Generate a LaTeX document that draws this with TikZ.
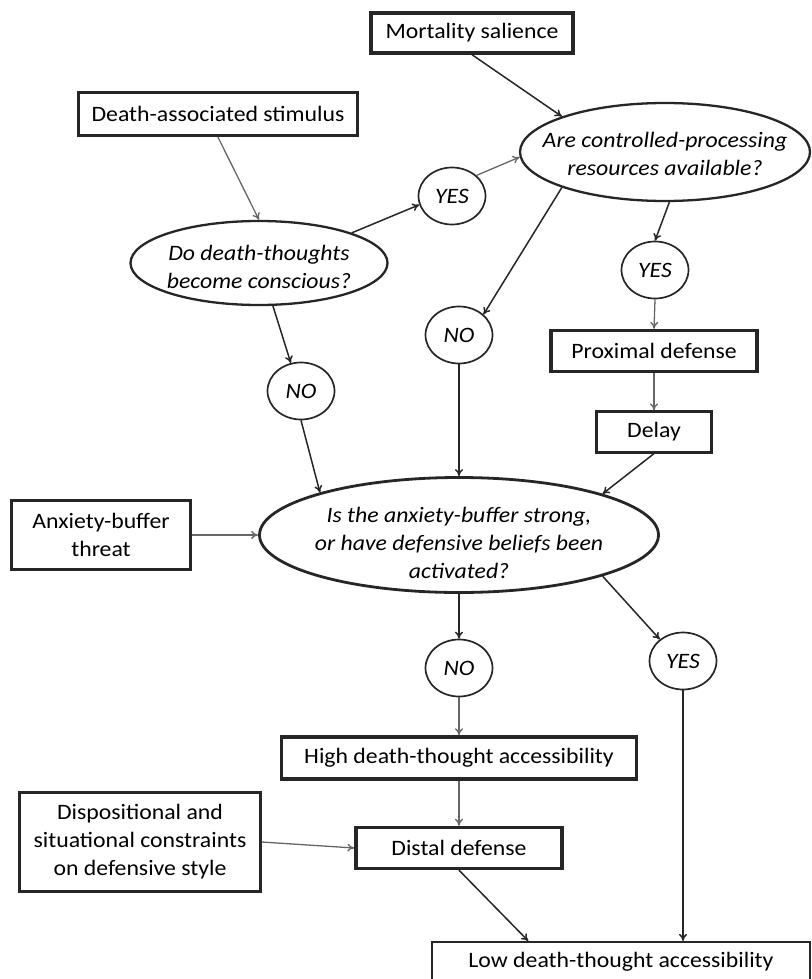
\documentclass[tikz,border=0pt]{standalone}
\usepackage{fontspec}
\setmainfont{Carlito}[FakeStretch=1.08]
\usetikzlibrary{shapes.geometric,arrows.meta,calc}
\begin{document}
\begin{tikzpicture}[x=1pt,y=-1pt,
  every node/.style={font=\fontsize{22}{28}\selectfont, align=center, inner sep=0pt, text=black},
  box/.style={draw=black!85, rectangle, line width=2.2pt},
  boldbox/.style={box, line width=3.4pt},
  question/.style={draw=black!85, ellipse, line width=2.3pt},
  qtext/.style={font=\fontsize{22}{28}\selectfont\itshape, align=center, inner sep=0pt},
  answer/.style={draw=black!85, ellipse, line width=1.7pt, minimum width=67pt, minimum height=57pt, font=\fontsize{22}{28}\selectfont\itshape},
  arr/.style={-{To[length=7pt,width=8pt]}, line width=1.5pt, draw=black!85},
  lightarr/.style={arr, line width=1.3pt, draw=black!60}
]
\useasboundingbox (0,0) rectangle (811,979);

\node[boldbox, minimum width=202pt, minimum height=40pt] (ms) at (472,33) {Mortality salience};
\node[boldbox, minimum width=279pt, minimum height=43pt] (das) at (218,114) {Death-associated stimulus};
\node[question, minimum width=290pt, minimum height=98pt,
  label={[qtext,yshift=-2pt]center:Are controlled-processing\\resources available?}] (cpr) at (665,152) {};
\node[answer] (yes1) at (452,196) {YES};
\node[question, minimum width=257pt, minimum height=84pt,
  label={[qtext,yshift=-4pt]center:Do death-thoughts\\become conscious?}] (ddt) at (259,263) {};
\node[answer] (yes2) at (655,270) {YES};
\node[answer] (no2) at (459,335) {NO};
\node[answer] (no1) at (301,391) {NO};
\node[boldbox, minimum width=206pt, minimum height=41pt] (prox) at (654,351) {Proximal defense};
\node[box, minimum width=115pt, minimum height=41pt] (delay) at (654,432) {Delay};
\node[question, minimum width=399pt, minimum height=115pt, line width=2.8pt,
  label={[qtext,yshift=-8pt]center:Is the anxiety-buffer strong,\\or have defensive beliefs been\\activated?}] (big) at (459,535) {};
\node[box, minimum width=179pt, minimum height=69pt] (abt) at (101,535) {Anxiety-buffer\\threat};
\node[answer] (no3) at (459,668) {NO};
\node[answer] (yes3) at (683,661) {YES};
\node[boldbox, minimum width=355pt, minimum height=42pt] (high) at (459,758) {High death-thought accessibility};
\node[box, minimum width=241pt, minimum height=99pt] (disp) at (140,842) {Dispositional and\\situational constraints\\on defensive style};
\node[boldbox, minimum width=206pt, minimum height=41pt] (distal) at (459,848) {Distal defense};
\node[box, minimum width=378pt, minimum height=40pt] (low) at (621,962) {Low death-thought accessibility};

\draw[lightarr] (das.south) -- (ddt.north);
\draw[arr] (ms.south) -- (cpr.161);
\draw[arr] (ddt.18) -- (yes1.195);
\draw[lightarr] (yes1.40) -- (cpr.182);
\draw[arr] (cpr.199) -- (no2.40);
\draw[arr] (cpr.-85) -- (yes2.north);
\draw[arr] (ddt.-72) -- (no1.110);
\draw[arr] (no1.south) -- (big.163);
\draw[arr] (no2.south) -- (big.north);
\draw[lightarr] (yes2.south) -- (prox.north);
\draw[lightarr] (prox.south) -- (delay.north);
\draw[arr] (delay.south) -- (big.16);
\draw[lightarr] (abt.east) -- (big.west);
\draw[arr] (big.south) -- (no3.north);
\draw[arr] (big.-16) -- (yes3.137);
\draw[lightarr] (no3.south) -- (high.north);
\draw[lightarr] (high.south) -- (distal.north);
\draw[lightarr] (disp.east) -- (distal.west);
\draw[arr] (distal.south) -- ($(low.north west)!0.256!(low.north east)$);
\draw[arr] (yes3.south) -- (yes3.south |- low.north);
\end{tikzpicture}
\end{document}
